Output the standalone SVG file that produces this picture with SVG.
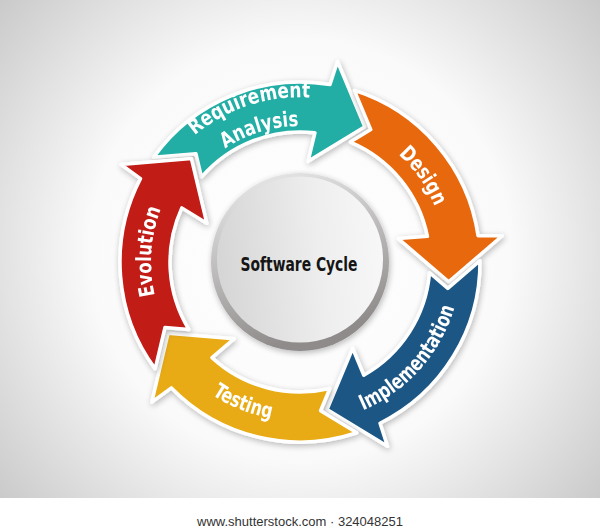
<svg xmlns="http://www.w3.org/2000/svg" width="600" height="531" viewBox="0 0 600 531">
<defs>
<radialGradient id="bg" gradientUnits="userSpaceOnUse" cx="300" cy="250" r="420">
<stop offset="0" stop-color="#ffffff"/><stop offset="0.5" stop-color="#fafafa"/><stop offset="1" stop-color="#c2c2c2"/>
</radialGradient>
<linearGradient id="ring" x1="0" y1="0" x2="0.3" y2="1">
<stop offset="0" stop-color="#eeeeee"/><stop offset="1" stop-color="#8f8b8b"/>
</linearGradient>
<linearGradient id="disc" x1="0" y1="0.3" x2="1" y2="0.2">
<stop offset="0" stop-color="#d6d6d6"/><stop offset="0.6" stop-color="#eeeeee"/><stop offset="1" stop-color="#f8f8f8"/>
</linearGradient>
<filter id="sh" x="-20%" y="-20%" width="140%" height="140%">
<feGaussianBlur in="SourceAlpha" stdDeviation="3"/>
<feOffset dx="1" dy="2"/>
<feComponentTransfer><feFuncA type="linear" slope="0.28"/></feComponentTransfer>
<feMerge><feMergeNode/><feMergeNode in="SourceGraphic"/></feMerge>
</filter>
<path id="arrow" d="M31.19,-177.27 A180,180 0 0 1 173.03,-49.61 L197,-52.8 L150,0 L94.3,-36.2 L122.92,-42.32 A130,130 0 0 0 33.93,-125.49 L52.63,-140.62 Z"/>
<path id="pReq" d="M138.6,228.8 A165,165 0 0 1 410.4,139.4"/>
<path id="pAna" d="M167.5,231.4 A136,136 0 0 1 392.7,162.5"/>
<path id="pDes" d="M287.3,116.6 A146,146 0 0 1 432.3,323.7"/>
<path id="pEvo" d="M216.7,385.5 A149,149 0 0 1 234.7,128.1"/>
<path id="pImp" d="M267.4,419.7 A161,161 0 0 0 452.9,211.4"/>
<path id="pTes" d="M142.5,284.1 A159,159 0 0 0 397.9,387.3"/>
</defs>
<style>
.arr{stroke:#ffffff;stroke-width:3.5;stroke-linejoin:round}
.lbl{fill:#ffffff;font-family:'Liberation Sans Narrow','DejaVu Sans Condensed','Open Sans',sans-serif;font-weight:bold;font-stretch:condensed;font-size:21px}
.ctr{fill:#151515;font-family:'Liberation Sans Narrow','DejaVu Sans Condensed','Open Sans',sans-serif;font-weight:bold;font-stretch:condensed;font-size:19px}
.foot{fill:#333333;font-family:'Liberation Sans',Arial,sans-serif;font-size:13px}
</style>
<rect x="0" y="0" width="600" height="498" fill="url(#bg)"/>
<rect x="0" y="498" width="600" height="33" fill="#ffffff"/>

<g id="node-requirement" filter="url(#sh)">
<use href="#arrow" class="arr" fill="#21ada5" transform="translate(300 262) rotate(-64.4)"/>
<text class="lbl"><textPath href="#pReq" startOffset="50%" text-anchor="middle" textLength="124" lengthAdjust="spacingAndGlyphs">Requirement</textPath></text>
<text class="lbl"><textPath href="#pAna" startOffset="50%" text-anchor="middle" textLength="78" lengthAdjust="spacingAndGlyphs">Analysis</textPath></text>
</g>
<g id="node-design" filter="url(#sh)">
<use href="#arrow" class="arr" fill="#e8690f" transform="translate(300 262) rotate(7.6)"/>
<text class="lbl"><textPath href="#pDes" startOffset="50%" text-anchor="middle" textLength="64" lengthAdjust="spacingAndGlyphs">Design</textPath></text>
</g>
<g id="node-implementation" filter="url(#sh)">
<use href="#arrow" class="arr" fill="#1c5784" transform="translate(300 262) rotate(79.6)"/>
<text class="lbl"><textPath href="#pImp" startOffset="50%" text-anchor="middle" textLength="142" lengthAdjust="spacingAndGlyphs">Implementation</textPath></text>
</g>
<g id="node-testing" filter="url(#sh)">
<use href="#arrow" class="arr" fill="#e8ab12" transform="translate(300 262) rotate(151.6)"/>
<text class="lbl"><textPath href="#pTes" startOffset="50%" text-anchor="middle" textLength="64" lengthAdjust="spacingAndGlyphs">Testing</textPath></text>
</g>
<g id="node-evolution" filter="url(#sh)">
<use href="#arrow" class="arr" fill="#c11a18" transform="translate(300 262) rotate(223.6)"/>
<text class="lbl"><textPath href="#pEvo" startOffset="50%" text-anchor="middle" textLength="88" lengthAdjust="spacingAndGlyphs">Evolution</textPath></text>
</g>

<g id="node-center">
<circle cx="300" cy="262" r="89" fill="url(#ring)" filter="url(#sh)"/>
<circle cx="300" cy="259.5" r="83" fill="url(#disc)"/>
<text class="ctr" x="299" y="271" text-anchor="middle" textLength="117" lengthAdjust="spacingAndGlyphs">Software Cycle</text>
</g>

<text class="foot" x="300" y="526" text-anchor="middle">www.shutterstock.com · 324048251</text>
</svg>
